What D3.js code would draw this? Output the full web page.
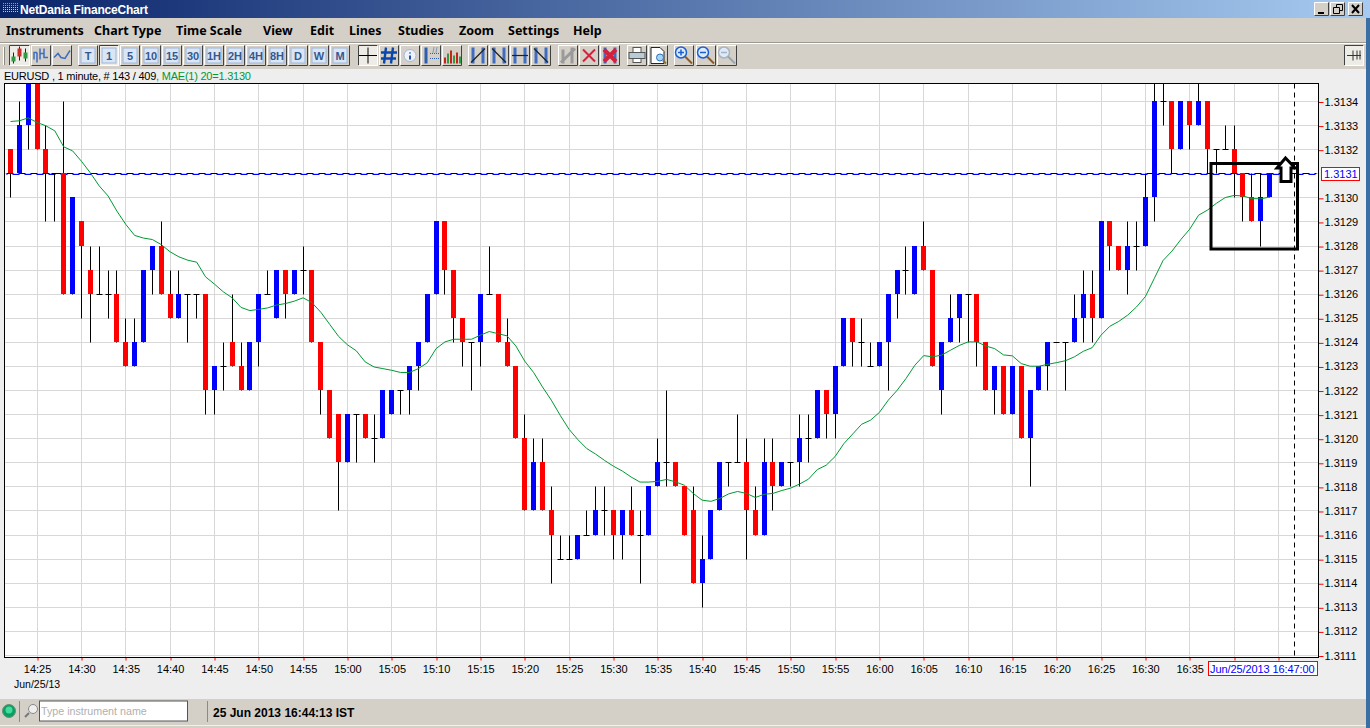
<!DOCTYPE html>
<html>
<head>
<meta charset="utf-8">
<title>EURUSD</title>
<script src="https://cdn.jsdelivr.net/npm/d3@7"></script>
<style>
html, body { margin: 0; padding: 0; background: #d4d0c8; overflow: hidden; }
svg { display: block; }
text { font-family: "Liberation Sans", Arial, sans-serif; }
</style>
</head>
<body>
<div id="chart"></div>
<script>
// One minute EURUSD bars from 14:22, in pips above 1.3100 (32 = 1.3132)
var barOpen = [32,31,33,35,32,31,31,26,29,27,26,26,26,24,23,24,27,28,26,25,26,26,26,22,23,24,23,22,24,26,
  25,27,26,27,27,24,22,21,19,21,21,20,20,21,22,22,23,24,26,29,27,25,24,24,26,26,24,23,20,17,
  19,17,15,15,15,16,16,17,17,16,17,16,16,18,19,19,18,17,14,15,17,19,19,19,17,16,19,18,19,19,
  20,20,22,21,23,25,24,23,23,24,26,27,26,28,27,22,24,25,26,26,24,22,23,21,23,20,22,23,24,24,
  24,25,26,25,29,28,27,28,28,30,34,34,32,34,33,34,32,32,32,31,30,29,30];
var barClose = [31,33,35,32,31,31,26,30,28,26,26,26,24,23,24,27,28,26,25,26,26,26,22,23,23,23,22,24,26,26,
  27,26,27,27,24,22,20,19,21,21,20,20,22,22,22,23,24,26,29,27,25,24,24,26,26,24,23,20,17,19,
  17,16,15,15,16,16,17,17,16,17,16,16,18,19,19,18,16,14,15,17,19,19,19,17,16,19,18,19,19,20,
  20,22,21,23,25,24,24,23,24,26,27,27,28,27,23,24,25,26,26,24,22,23,21,23,20,22,23,24,24,24,
  25,26,25,29,28,27,28,28,30,34,34,32,34,33,34,32,32,32,31,30,29,30,31];
var barHigh = [32,34,35,35,33,31,34,30,29,28,28,27,27,25,25,27,28,29,27,27,26,26,26,23,24,26,24,24,26,27,
  27,27,27,28,27,24,22,21,21,21,21,21,22,22,22,23,24,26,29,29,27,25,24,26,28,26,25,23,21,20,
  20,18,16,16,16,17,18,18,17,17,18,17,18,20,22,19,18,18,16,17,19,19,21,20,18,20,20,19,19,21,
  21,22,22,23,25,25,25,24,24,26,27,28,28,29,27,24,26,26,26,26,24,23,23,23,23,22,23,24,24,24,
  26,27,27,29,29,28,29,29,31,35,35,34,34,34,35,34,32,33,33,31,31,31,31];
var barLow = [30,31,32,32,29,29,26,26,25,24,26,25,24,23,23,24,26,26,25,25,24,25,21,21,22,23,22,22,23,26,
  25,25,26,26,24,21,20,17,19,19,20,19,20,21,21,21,22,24,26,26,24,23,22,23,26,24,23,20,17,17,
  17,14,15,15,15,16,16,16,15,15,16,14,16,18,18,18,16,14,13,15,17,18,19,15,16,16,17,18,18,18,
  19,20,20,20,23,23,23,23,23,22,25,26,26,27,23,21,24,24,24,23,22,21,21,21,20,18,22,22,24,22,
  24,24,24,25,27,27,26,27,28,29,33,31,32,32,33,31,31,32,30,29,29,28,30];
// 20 period average
var maValues = [33.17,33.2,33.32,33.13,32.99,32.78,32.12,31.95,31.52,31.04,30.5,30.08,29.45,28.9,28.44,28.33,28.27,28.06,27.76,27.55,
  27.41,27.33,26.72,26.42,26.1,25.85,25.45,25.32,25.37,25.43,25.55,25.61,25.71,25.85,25.65,25.25,24.75,24.25,23.9,23.65,
  23.19,22.98,22.91,22.84,22.75,22.75,22.91,23.15,23.74,24.02,24.13,24.13,24.13,24.3,24.45,24.36,24.27,23.85,23.22,22.75,
  22.15,21.6,20.97,20.39,19.96,19.59,19.36,19.1,18.86,18.66,18.41,18.2,18.2,18.23,18.31,18.21,18.07,17.73,17.45,17.4,
  17.52,17.71,17.81,17.73,17.56,17.69,17.73,17.85,17.95,18.12,18.32,18.72,18.9,19.26,19.8,20.2,20.6,20.77,21.09,21.6,
  22.01,22.5,23.05,23.45,23.4,23.47,23.67,23.87,24.02,24.02,23.85,23.74,23.48,23.44,23.12,23.01,23.01,23.09,23.16,23.24,
  23.4,23.63,23.78,24.3,24.67,24.87,25.13,25.47,25.9,26.65,27.4,27.79,28.27,28.7,29.28,29.49,29.77,30.01,30.1,30.08,
  29.97,29.96,30.03];
var priceTicks = [1.3134,1.3133,1.3132,1.3130,1.3129,1.3128,1.3127,1.3126,1.3125,1.3124,1.3123,1.3122,1.3121,
  1.3120,1.3119,1.3118,1.3117,1.3116,1.3115,1.3114,1.3113,1.3112,1.3111];
var lastPrice = 1.3131;
var timeTicks = ["14:25","14:30","14:35","14:40","14:45","14:50","14:55","15:00","15:05","15:10","15:15","15:20","15:25","15:30",
  "15:35","15:40","15:45","15:50","15:55","16:00","16:05","16:10","16:15","16:20","16:25","16:30","16:35","16:40","16:45"];
var menuItems = ["Instruments","Chart Type","Time Scale","View","Edit","Lines","Studies","Zoom","Settings","Help"];
var menuX = [6,94,176,263,310,349,398,459,508,573];
var scaleButtons = ["T","1","5","10","15","30","1H","2H","4H","8H","D","W","M"];

var width = 1370, height = 728;
var left = 4.5, right = 1318.5, top_ = 83.5, bottom = 657.5;
var parseTime = d3.timeParse("%H:%M");
var firstBar = parseTime("14:22");
var lastBar = parseTime("16:44");

var svg = d3.select("#chart").append("svg").attr("width", width).attr("height", height);

var x = d3.scaleTime().domain([firstBar, lastBar]).range([10.5, 1269.5]);
var y = d3.scaleLinear().domain([1.3111, 1.3134]).range([655.5, 101.5]);

function px(v) { return Math.floor(x(v)) + 0.5; }
function py(v) { return Math.floor(y(v)) + 0.5; }
function barTime(i) { return d3.timeMinute.offset(firstBar, i); }
function pipPrice(p) { return 1.31 + p / 10000; }

/***** window chrome *****/
function drawChrome() {
    var grad = svg.append("defs").append("linearGradient").attr("id", "titleGrad");
    grad.append("stop").attr("offset", "0").attr("stop-color", "#0a246a");
    grad.append("stop").attr("offset", "1").attr("stop-color", "#a6caf0");

    svg.append("rect").attr("width", width).attr("height", height).attr("fill", "#d4d0c8");
    svg.append("rect").attr("width", width).attr("height", 18).attr("fill", "url(#titleGrad)");
    svg.append("rect").attr("y", 69).attr("width", 1366).attr("height", 630).attr("fill", "#eeeeee");
    svg.append("rect").attr("y", 42).attr("width", 1366).attr("height", 1).attr("fill", "#9c9a94");
    svg.append("rect").attr("y", 43).attr("width", 1366).attr("height", 1).attr("fill", "#ffffff");
    svg.append("rect").attr("y", 725).attr("width", 1366).attr("height", 1).attr("fill", "#f2f0ea");
    svg.append("rect").attr("x", 1366).attr("y", 18).attr("width", 4).attr("height", 710).attr("fill", "#3a6ea5");

    // title icon dots
    d3.range(0, 5).forEach(function(r) {
        d3.range(0, 8).forEach(function(c) {
            svg.append("rect").attr("x", 3 + c * 2).attr("y", 3 + r * 2).attr("width", 1).attr("height", 1)
                .attr("fill", r < 2 ? "#8f9bb8" : "#c8c8c8");
        });
    });
    svg.append("text").attr("x", 20).attr("y", 14).attr("fill", "#fff")
        .style("font-size", "12px").style("font-weight", "bold").style("letter-spacing", "-0.2px").text("NetDania FinanceChart");

    // minimise, restore, close
    [[1314, "min"], [1330, "res"], [1348, "close"]].forEach(function(b) {
        raised(b[0], 2, 15, 14);
        var g = svg.append("g").attr("transform", "translate(" + b[0] + ",2)").attr("stroke", "#000").attr("fill", "none");
        if (b[1] == "min") g.append("path").attr("d", "M4 11H10").attr("stroke-width", 2);
        if (b[1] == "res") g.append("path").attr("d", "M6.5 5V2.5H12.5V8.5H10M3.5 5.5H9.5V11.5H3.5Z").attr("stroke-width", 1);
        if (b[1] == "close") g.append("path").attr("d", "M4 3L11 11M11 3L4 11").attr("stroke-width", 2);
    });

    svg.append("g").selectAll("text").data(menuItems).enter().append("text")
        .attr("x", function(d, i) { return menuX[i]; })
        .attr("y", 35)
        .style("font-family", "Noto Sans").style("font-size", "12.5px").style("font-weight", "bold")
        .attr("fill", "#000")
        .text(function(d) { return d; });

    // status bar
    var led = svg.append("g");
    led.append("circle").attr("cx", 9).attr("cy", 711).attr("r", 6.5).attr("fill", "#0c9d63").attr("stroke", "#6c8d7c");
    led.append("circle").attr("cx", 9).attr("cy", 710).attr("r", 3.5).attr("fill", "#3fdc9c");
    svg.append("rect").attr("x", 19).attr("y", 701).attr("width", 1).attr("height", 21).attr("fill", "#8c8a84");
    svg.append("rect").attr("x", 207).attr("y", 701).attr("width", 1).attr("height", 21).attr("fill", "#8c8a84");
    svg.append("circle").attr("cx", 33).attr("cy", 709).attr("r", 4.5).attr("fill", "#eee").attr("stroke", "#888");
    svg.append("path").attr("d", "M29 713L25 717").attr("stroke", "#777").attr("stroke-width", 2);
    svg.append("rect").attr("x", 39.5).attr("y", 701).attr("width", 148).attr("height", 20)
        .attr("fill", "#fff").attr("stroke", "#555");
    svg.append("text").attr("x", 41).attr("y", 715).attr("fill", "#b0b0b0").style("font-size", "10.7px").text("Type instrument name");
    svg.append("text").attr("x", 213).attr("y", 717).attr("fill", "#000")
        .style("font-size", "12px").style("font-weight", "bold").text("25 Jun 2013 16:44:13 IST");
}

function raised(bx, by, w, h, pressed) {
    svg.append("rect").attr("x", bx).attr("y", by).attr("width", w).attr("height", h).attr("fill", pressed ? "#eeece6" : "#d4d0c8");
    svg.append("path").attr("fill", "none").attr("stroke", pressed ? "#404040" : "#fff")
        .attr("d", "M" + (bx + 0.5) + " " + (by + h - 0.5) + "V" + (by + 0.5) + "H" + (bx + w - 0.5));
    svg.append("path").attr("fill", "none").attr("stroke", pressed ? "#fff" : "#404040")
        .attr("d", "M" + (bx + 0.5) + " " + (by + h - 0.5) + "H" + (bx + w - 0.5) + "V" + (by + 0.5));
}

/***** toolbar *****/
function drawToolbar() {
    var blue = "#3d6cc0";
    function icon(cx) { return svg.append("g").attr("transform", "translate(" + cx + ",55.5)").attr("fill", "none"); }

    svg.append("rect").attr("x", 3).attr("y", 47).attr("width", 1).attr("height", 18).attr("fill", "#fff");
    svg.append("rect").attr("x", 4).attr("y", 47).attr("width", 1).attr("height", 18).attr("fill", "#8c8a84");

    // chart type buttons
    raised(9, 45, 21, 21, true);
    var c = icon(19.5);
    c.append("path").attr("d", "M-6 -3V8M0 -9V5M6 -7V6").attr("stroke", "#222");
    c.append("rect").attr("x", -8).attr("y", 1).attr("width", 4).attr("height", 5).attr("fill", "#2f9b42");
    c.append("rect").attr("x", -2).attr("y", -7).attr("width", 4).attr("height", 8).attr("fill", "#c8322a");
    c.append("rect").attr("x", 4).attr("y", -3).attr("width", 4).attr("height", 6).attr("fill", "#2f9b42");
    raised(31, 45, 20, 21);
    icon(41).append("path").attr("d", "M-7 4V-3H-4M-4 -3V7M-1 -7V4M-1 -2H3M3 -7V2H7").attr("stroke", blue).attr("stroke-width", 1.5);
    raised(52, 45, 20, 21);
    icon(62).append("path").attr("d", "M-8 2L-4 -2L-1 2L3 3L8 -5").attr("stroke", blue).attr("stroke-width", 1.5);

    // time scale buttons
    scaleButtons.forEach(function(d, i) {
        var bx = 78 + i * 21;
        raised(bx, 45, 20, 21, d == "1");
        svg.append("rect").attr("x", bx + 3).attr("y", 48).attr("width", 14).attr("height", 15).attr("fill", "#dbe6f5").attr("stroke", "#9db6da");
        svg.append("text").attr("x", bx + 10).attr("y", 60).attr("text-anchor", "middle")
            .style("font-size", "11px").style("font-weight", "bold").attr("fill", "#35588f").text(d);
    });

    // crosshair, grid, info, studies
    raised(358, 45, 20, 21, true);
    icon(368).append("path").attr("d", "M-9 0H9M0 -8V8").attr("stroke", "#000");
    raised(379, 45, 20, 21);
    icon(389).append("path").attr("d", "M-3 -8L-5 8M4 -8L2 8M-8 -3H8M-8 3H7").attr("stroke", "#0b47a8").attr("stroke-width", 2.4);
    raised(400, 45, 20, 21);
    var inf = icon(410);
    inf.append("circle").attr("r", 6).attr("fill", "#eef2fa").attr("stroke", "#a9b6cc");
    inf.append("path").attr("d", "M0 -3V-2M0 0V4").attr("stroke", "#1c55b0").attr("stroke-width", 2);
    raised(421, 45, 20, 21);
    var st = icon(431);
    st.append("path").attr("d", "M-5 -8V8").attr("stroke", "#2c5fb0").attr("stroke-width", 3);
    st.append("path").attr("d", "M-1 -2H8M-1 3H8M3 -8L2 -3M6 -8L5 -3").attr("stroke", "#2c5fb0").attr("stroke-dasharray", "1,1");
    raised(442, 45, 20, 21);
    var bars = icon(452);
    [-8, -5, -2, 1, 4, 7].forEach(function(bx, i) {
        var h = [6, 10, 13, 8, 11, 7][i];
        bars.append("rect").attr("x", bx).attr("y", 8 - h).attr("width", 2).attr("height", h).attr("fill", i % 2 ? "#2f9b42" : "#c8221e");
    });

    // line tools
    [478, 499, 520, 541].forEach(function(cx, i) {
        raised(cx - 10, 45, 20, 21);
        var g = icon(cx);
        g.append("path").attr("d", "M-5 -8V8M5 -8V8").attr("stroke", blue).attr("stroke-width", 3);
        var line = ["M-7 7L7 -7", "M-7 -7L7 7", "M-8 0H8", "M-7 -7L7 7"][i];
        g.append("path").attr("d", line).attr("stroke", "#222").attr("stroke-width", 1.2);
    });
    raised(558, 45, 20, 21);
    icon(568).append("path").attr("d", "M-5 -6V8M4 -8V8M-7 7L7 -7").attr("stroke", "#9a9a9a").attr("stroke-width", 3);
    raised(579, 45, 20, 21);
    icon(589).append("path").attr("d", "M-6 -6L6 6M6 -6L-6 6").attr("stroke", "#d4203c").attr("stroke-width", 2);
    raised(600, 45, 20, 21);
    var del = icon(610);
    del.append("path").attr("d", "M-5 -8V8M5 -8V8").attr("stroke", blue).attr("stroke-width", 3);
    del.append("path").attr("d", "M-6 -6L6 6M6 -6L-6 6").attr("stroke", "#d4203c").attr("stroke-width", 4);

    // print and preview
    raised(627, 45, 20, 21);
    var pr = icon(637);
    pr.append("rect").attr("x", -4).attr("y", -8).attr("width", 8).attr("height", 5).attr("fill", "#fff").attr("stroke", "#555");
    pr.append("rect").attr("x", -8).attr("y", -3).attr("width", 16).attr("height", 6).attr("fill", "#b9cbd6").attr("stroke", "#555");
    pr.append("rect").attr("x", -4).attr("y", 3).attr("width", 8).attr("height", 4).attr("fill", "#fff").attr("stroke", "#555");
    raised(648, 45, 20, 21);
    var pv = icon(658);
    pv.append("path").attr("d", "M-7 -8H2L6 -4V8H-7Z").attr("fill", "#fff").attr("stroke", "#222");
    pv.append("circle").attr("cx", 2).attr("cy", 2).attr("r", 3.5).attr("fill", "#a9d3f2").attr("stroke", "#2b6fc0");
    pv.append("path").attr("d", "M5 5L8 8").attr("stroke", "#8a6a3a").attr("stroke-width", 2);

    // zoom in, zoom out, reset
    [[684, "M-6 -3H0M-3 -6V0", "#1c5fd0"], [706, "M-6 -3H0", "#1c5fd0"], [727, "M-6 -3H0", "#a9b3bd"]].forEach(function(z, i) {
        raised(z[0] - 10, 45, 20, 21);
        var g = icon(z[0]);
        g.append("circle").attr("cx", -3).attr("cy", -3).attr("r", 5.5).attr("fill", "#dceafa").attr("stroke", z[2]).attr("stroke-width", 1.5);
        g.append("path").attr("d", z[1]).attr("stroke", z[2]).attr("stroke-width", 1.5);
        g.append("path").attr("d", "M1 1L8 8").attr("stroke", i == 2 ? "#9aa4ad" : "#8a5a2a").attr("stroke-width", 2);
    });

    // pin
    raised(1344, 45, 20, 21, true);
    icon(1354).append("path").attr("d", "M-7 0H7M-1 -5V5M3 -5V4M6 -5V4").attr("stroke", "#333");
}

/***** chart *****/
function drawChart() {
    svg.append("text").attr("x", 4).attr("y", 80).attr("fill", "#000")
        .style("font-size", "11px").style("letter-spacing", "-0.23px")
        .text("EURUSD , 1 minute, # 143 / 409")
        .append("tspan").attr("fill", "#009933").text(", MAE(1) 20=1.3130");

    svg.append("rect").attr("x", left).attr("y", top_).attr("width", right - left).attr("height", bottom - top_).attr("fill", "#fff");

    var tickDates = timeTicks.map(function(t) { return parseTime(t); });
    var allPrices = priceTicks.concat([lastPrice]);

    // grid
    svg.append("g").selectAll("line").data(tickDates).enter().append("line")
        .attr("x1", px).attr("x2", px).attr("y1", top_).attr("y2", bottom).attr("stroke", "#d8d8d8");
    svg.append("g").selectAll("line").data(allPrices).enter().append("line")
        .attr("y1", py).attr("y2", py).attr("x1", left).attr("x2", right).attr("stroke", "#d8d8d8");

    svg.append("clipPath").attr("id", "plot").append("rect")
        .attr("x", left).attr("y", top_).attr("width", right - left).attr("height", bottom - top_);
    var plot = svg.append("g").attr("clip-path", "url(#plot)");

    var idx = d3.range(barOpen.length);

    // last price lines, dashes staggered
    plot.append("line").attr("x1", left + 2).attr("x2", right - 2).attr("y1", 173.5).attr("y2", 173.5)
        .attr("stroke", "#000").attr("stroke-dasharray", "7,5");
    plot.append("line").attr("x1", left + 2).attr("x2", right - 2).attr("y1", 174.5).attr("y2", 174.5)
        .attr("stroke", "#0000ff").attr("stroke-dasharray", "7,5").attr("stroke-dashoffset", 6);

    // wicks
    plot.append("g").selectAll("line").data(idx).enter().append("line")
        .attr("x1", function(i) { return px(barTime(i)); })
        .attr("x2", function(i) { return px(barTime(i)); })
        .attr("y1", function(i) { return py(pipPrice(barHigh[i])); })
        .attr("y2", function(i) { return py(pipPrice(barLow[i])); })
        .attr("stroke", "#000");

    // flat bars get a small black dash instead of a body
    var flat = idx.filter(function(i) { return barOpen[i] == barClose[i]; });
    plot.append("g").selectAll("line").data(flat).enter().append("line")
        .attr("x1", function(i) { return px(barTime(i)) - 3; })
        .attr("x2", function(i) { return px(barTime(i)) + 3; })
        .attr("y1", function(i) { return py(pipPrice(barOpen[i])); })
        .attr("y2", function(i) { return py(pipPrice(barOpen[i])); })
        .attr("stroke", "#000");

    var bodies = idx.filter(function(i) { return barOpen[i] != barClose[i]; });
    plot.append("g").selectAll("rect").data(bodies).enter().append("rect")
        .attr("x", function(i) { return px(barTime(i)) - 2.5; })
        .attr("width", 5)
        .attr("y", function(i) { return py(pipPrice(Math.max(barOpen[i], barClose[i]))) - 0.5; })
        .attr("height", function(i) { return py(pipPrice(Math.min(barOpen[i], barClose[i]))) - py(pipPrice(Math.max(barOpen[i], barClose[i]))); })
        .attr("fill", function(i) { return barClose[i] > barOpen[i] ? "#0000ff" : "#ff0000"; });

    // moving average
    var line = d3.line()
        .x(function(v, i) { return x(barTime(i)); })
        .y(function(v) { return y(pipPrice(v)); });
    plot.append("path").datum(maValues).attr("d", line).attr("fill", "none").attr("stroke", "#009933");

    // cursor
    plot.append("line").attr("x1", 1294.5).attr("x2", 1294.5).attr("y1", top_).attr("y2", bottom)
        .attr("stroke", "#000").attr("stroke-dasharray", "5,4");

    // hand drawn box and arrow
    svg.append("rect").attr("x", 1211).attr("y", 163.5).attr("width", 86.5).attr("height", 85.5)
        .attr("fill", "none").attr("stroke", "#000").attr("stroke-width", 3);
    svg.append("path").attr("d", "M1285.5 158L1277 168H1281V181.5H1291V168H1295Z")
        .attr("fill", "#fff").attr("stroke", "#000").attr("stroke-width", 3);

    // axes
    var yAxis = d3.axisRight(y).tickValues(priceTicks).tickSize(5).tickPadding(1).tickFormat(d3.format(".4f"));
    var gy = svg.append("g").attr("transform", "translate(" + right + ",0)").call(yAxis);
    gy.select(".domain").remove();
    gy.selectAll("line").attr("stroke", "#ff0000").attr("y1", 0.5).attr("y2", 0.5);
    gy.selectAll("text").attr("fill", "#000").style("font-size", "11px").style("font-family", "Liberation Sans");

    var xAxis = d3.axisBottom(x).tickValues(tickDates).tickSize(3).tickPadding(5).tickFormat(d3.timeFormat("%H:%M"));
    var gx = svg.append("g").attr("transform", "translate(0," + bottom + ")").call(xAxis);
    gx.select(".domain").remove();
    gx.selectAll("line").attr("stroke", "#ff0000")
        .attr("x1", function(d) { return px(d) - x(d); })
        .attr("x2", function(d) { return px(d) - x(d); });
    gx.selectAll("text").attr("fill", "#000").style("font-size", "11px").style("font-family", "Liberation Sans")
        .filter(function(d, i) { return i >= timeTicks.length - 2; }).remove();

    svg.append("rect").attr("x", left).attr("y", top_).attr("width", right - left).attr("height", bottom - top_)
        .attr("fill", "none").attr("stroke", "#000");

    svg.append("text").attr("x", 14).attr("y", 688).attr("fill", "#000").style("font-size", "10.5px").text("Jun/25/13");

    // last price flag
    svg.append("rect").attr("x", 1321.5).attr("y", 167.5).attr("width", 38).attr("height", 13).attr("fill", "#fff").attr("stroke", "#ff0000");
    svg.append("text").attr("x", 1324).attr("y", 178).attr("fill", "#0000ff").style("font-size", "11px").text(d3.format(".4f")(lastPrice));

    // cursor time flag
    svg.append("rect").attr("x", 1208.5).attr("y", 661.5).attr("width", 109).attr("height", 14).attr("fill", "#fff").attr("stroke", "#ff0000");
    svg.append("text").attr("x", 1210).attr("y", 673).attr("fill", "#0000ff")
        .style("font-size", "11px").style("letter-spacing", "-0.1px").text("Jun/25/2013 16:47:00");
}

drawChrome();
drawToolbar();
drawChart();
</script>
</body>
</html>
